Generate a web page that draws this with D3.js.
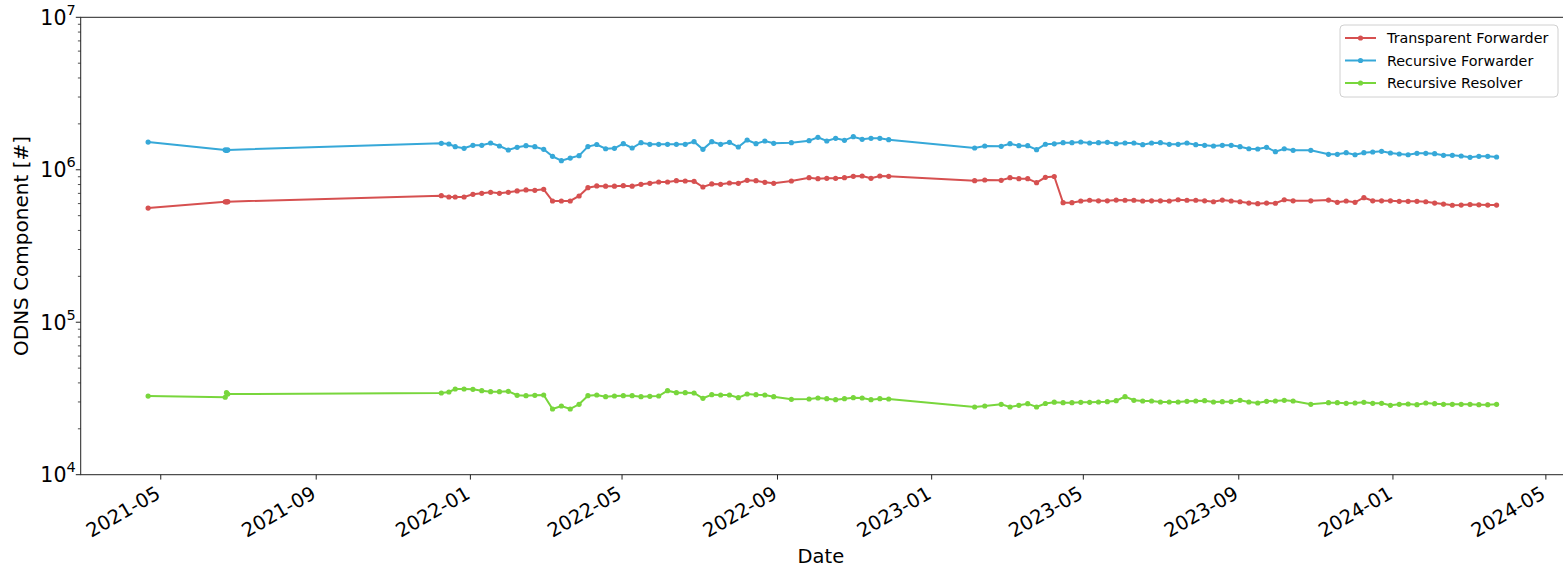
<!DOCTYPE html>
<meta charset="utf-8">
<style>
  body { margin: 0; background: #fff; }
  text { font-family: "DejaVu Sans", sans-serif; fill: #000; }
</style>
<script src="https://d3js.org/d3.v7.min.js"></script>
<div id="chart"></div>
<script>
// dates of the snapshots
var dates = ["2021-04-21","2021-06-21","2021-06-22","2021-06-23",
  "2021-12-09","2021-12-15","2021-12-20","2021-12-27","2022-01-03","2022-01-10","2022-01-17","2022-01-24","2022-01-31",
  "2022-02-07","2022-02-14","2022-02-21","2022-02-28","2022-03-07","2022-03-14","2022-03-21","2022-03-28","2022-04-04",
  "2022-04-11","2022-04-18","2022-04-25","2022-05-02","2022-05-09","2022-05-16","2022-05-23","2022-05-30","2022-06-06",
  "2022-06-13","2022-06-20","2022-06-27","2022-07-04","2022-07-11","2022-07-18","2022-07-25","2022-08-01","2022-08-08",
  "2022-08-15","2022-08-22","2022-08-29","2022-09-12","2022-09-26","2022-10-03","2022-10-10","2022-10-17","2022-10-24",
  "2022-10-31","2022-11-07","2022-11-14","2022-11-21","2022-11-28",
  "2023-02-04","2023-02-12","2023-02-25","2023-03-04","2023-03-11","2023-03-18","2023-03-25","2023-04-01","2023-04-08",
  "2023-04-15","2023-04-22","2023-04-29","2023-05-06","2023-05-13","2023-05-20","2023-05-27","2023-06-03","2023-06-10",
  "2023-06-17","2023-06-24","2023-07-01","2023-07-08","2023-07-15","2023-07-22","2023-07-29","2023-08-05","2023-08-12",
  "2023-08-19","2023-08-26","2023-09-02","2023-09-09","2023-09-16","2023-09-23","2023-09-30","2023-10-07","2023-10-14",
  "2023-10-28","2023-11-11","2023-11-18","2023-11-25","2023-12-02","2023-12-09","2023-12-16","2023-12-23","2023-12-30",
  "2024-01-06","2024-01-13","2024-01-20","2024-01-27","2024-02-03","2024-02-10","2024-02-17","2024-02-24","2024-03-02",
  "2024-03-09","2024-03-16","2024-03-23"];

var transparentForwarder = [561000,617000,615000,618000,
  676000,663000,663000,663000,690000,701000,711000,701000,711000,726000,737000,733000,744000,624000,624000,624000,673000,
  763000,783000,780000,780000,786000,780000,803000,815000,831000,831000,848000,844000,840000,771000,807000,803000,819000,
  815000,853000,848000,827000,815000,844000,887000,874000,879000,879000,887000,906000,910000,879000,910000,906000,
  848000,857000,853000,887000,874000,874000,823000,892000,903000,
  608000,608000,624000,631000,626000,626000,633000,631000,631000,624000,626000,626000,624000,636000,631000,631000,626000,
  617000,633000,624000,617000,605000,599000,605000,603000,636000,626000,
  626000,633000,612000,624000,612000,656000,626000,626000,626000,621000,621000,621000,617000,605000,596000,585000,587000,
  591000,589000,587000,587000];

var recursiveForwarder = [1520000,1350000,1340000,1350000,
  1491000,1476000,1417000,1383000,1447000,1447000,1498000,1432000,1348000,1404000,1438000,1417000,1362000,1225000,1147000,
  1194000,1237000,1420000,1465000,1374000,1383000,1482000,1389000,1505000,1469000,1469000,1469000,1469000,1469000,1528000,
  1362000,1528000,1469000,1514000,1410000,1568000,1482000,1544000,1491000,1505000,1551000,1633000,1544000,1608000,1560000,
  1648000,1584000,1608000,1608000,1575000,
  1389000,1432000,1425000,1482000,1438000,1438000,1354000,1470000,1480000,
  1505000,1505000,1521000,1498000,1505000,1514000,1482000,1498000,1498000,1460000,1498000,1505000,1469000,1469000,1498000,
  1460000,1447000,1432000,1447000,1447000,1417000,1374000,1368000,1404000,1314000,1374000,1342000,
  1342000,1263000,1263000,1294000,1255000,1294000,1308000,1322000,1288000,1269000,1255000,1282000,1282000,1275000,1244000,
  1244000,1231000,1207000,1225000,1225000,1213000];

var recursiveResolver = [32800,32200,34500,33800,
  34350,34880,36490,36490,36330,35570,35040,35040,35250,33180,32980,33180,33330,26980,28230,26980,28960,32980,33330,32480,
  32830,32980,32980,32480,32680,32830,35570,34510,34510,34350,31710,33480,33330,33330,32000,33840,33480,33330,32480,31230,
  31370,31850,31520,31050,31520,32000,31850,31050,31520,31370,
  27800,28230,28960,27800,28530,29230,27800,29300,29900,
  29670,29670,29850,29850,29980,30120,30580,32480,30760,30440,30440,29980,29980,29980,30300,30440,30580,29980,30120,30120,
  30760,29980,29530,30300,30440,30760,30440,
  28960,29670,29670,29400,29530,29850,29400,29400,28530,28960,29090,28790,29530,29230,28960,28960,28960,28960,28790,28790,
  28960];

var seriesNames = ["Transparent Forwarder", "Recursive Forwarder", "Recursive Resolver"];
var seriesColors = ["#d65050", "#36a8d8", "#78d63c"];
var yTicks = [1e4, 1e5, 1e6, 1e7];

var W = 1563, H = 568;
var margin = {top: 17.3, right: -1, bottom: 93.3, left: 80.7};
var width = W - margin.left - margin.right,
    height = H - margin.top - margin.bottom;

var svg = d3.select("#chart").append("svg")
    .attr("width", W).attr("height", H)
  .append("g")
    .attr("transform", "translate(" + margin.left + "," + margin.top + ")");

var parse = d3.timeParse("%Y-%m-%d");
var t = dates.map(parse);
var series = [transparentForwarder, recursiveForwarder, recursiveResolver].map(function(vals, i) {
  return {name: seriesNames[i], color: seriesColors[i],
          values: vals.map(function(v, j) { return {date: t[j], value: v}; })};
});

// matplotlib-like 5% padding on the time axis
var ext = d3.extent(t);
var pad = (ext[1] - ext[0]) * 0.05;
var x = d3.scaleTime()
    .domain([new Date(+ext[0] - pad), new Date(+ext[1] + pad)])
    .range([0, width]);
var y = d3.scaleLog().domain([1e4, 1e7]).range([height, 0]);

// x axis
var xTicks = x.ticks(d3.timeMonth.every(4));
var xa = svg.append("g").attr("transform", "translate(0," + height + ")");
xa.selectAll("line").data(xTicks).enter().append("line")
    .attr("x1", function(d) { return x(d); }).attr("x2", function(d) { return x(d); })
    .attr("y1", 0).attr("y2", 4.9)
    .attr("stroke", "#222").attr("stroke-width", 1);
xa.selectAll("text").data(xTicks).enter().append("text")
    .attr("transform", function(d) { return "translate(" + (x(d) + 1) + ",22.5) rotate(-30)"; })
    .attr("text-anchor", "end")
    .style("font-size", "19.5px")
    .text(d3.timeFormat("%Y-%m"));

// y axis: major + minor log ticks
var minor = [];
yTicks.slice(0, -1).forEach(function(b) { for (var k = 2; k < 10; k++) minor.push(b * k); });
var ya = svg.append("g");
ya.selectAll("line.minor").data(minor).enter().append("line")
    .attr("x1", -2.8).attr("x2", 0)
    .attr("y1", function(d) { return y(d); }).attr("y2", function(d) { return y(d); })
    .attr("stroke", "#222").attr("stroke-width", 0.8);
ya.selectAll("line.major").data(yTicks).enter().append("line")
    .attr("x1", -4.9).attr("x2", 0)
    .attr("y1", function(d) { return y(d); }).attr("y2", function(d) { return y(d); })
    .attr("stroke", "#222").attr("stroke-width", 1);
var yl = ya.selectAll("text").data(yTicks).enter().append("text")
    .attr("x", -5).attr("y", function(d) { return y(d) + 7.5; })
    .attr("text-anchor", "end")
    .style("font-size", "20.5px");
yl.append("tspan").text("10");
yl.append("tspan").attr("dy", -10).style("font-size", "14.5px")
    .text(function(d) { return Math.round(Math.log10(d)); });

// frame
svg.append("rect")
    .attr("width", width).attr("height", height)
    .attr("fill", "none").attr("stroke", "#222").attr("stroke-width", 1);

// labels
svg.append("text")
    .attr("x", (W - margin.left) / 2 - 1).attr("y", height + 88)
    .attr("text-anchor", "middle").style("font-size", "19.5px")
    .text("Date");
svg.append("text")
    .attr("transform", "translate(" + (-53) + "," + (height / 2) + ") rotate(-90)")
    .attr("text-anchor", "middle").style("font-size", "20px")
    .text("ODNS Component [#]");

// lines and points
var line = d3.line()
    .x(function(d) { return x(d.date); })
    .y(function(d) { return y(d.value); });

series.forEach(function(s) {
  svg.append("path")
    .datum(s.values)
    .attr("fill", "none")
    .attr("stroke", s.color)
    .attr("stroke-width", 2)
    .attr("d", line);
  svg.append("g").selectAll("circle")
    .data(s.values).enter().append("circle")
      .attr("cx", function(d) { return x(d.date); })
      .attr("cy", function(d) { return y(d.value); })
      .attr("r", 2.6)
      .attr("fill", s.color);
});

// legend
var lg = svg.append("g").attr("transform", "translate(" + (1340 - margin.left) + "," + (25 - margin.top) + ")");
lg.append("rect")
    .attr("width", 218).attr("height", 72).attr("rx", 4)
    .attr("fill", "#fff").attr("fill-opacity", 0.8)
    .attr("stroke", "#d0d0d0").attr("stroke-width", 1);
series.forEach(function(s, i) {
  var yy = 13 + i * 22.5;
  lg.append("line").attr("x1", 5).attr("x2", 36).attr("y1", yy).attr("y2", yy)
    .attr("stroke", s.color).attr("stroke-width", 2);
  lg.append("circle").attr("cx", 20.5).attr("cy", yy).attr("r", 2.6).attr("fill", s.color);
  lg.append("text").attr("x", 47).attr("y", yy + 5)
    .style("font-size", "14.3px").text(s.name);
});
</script>
